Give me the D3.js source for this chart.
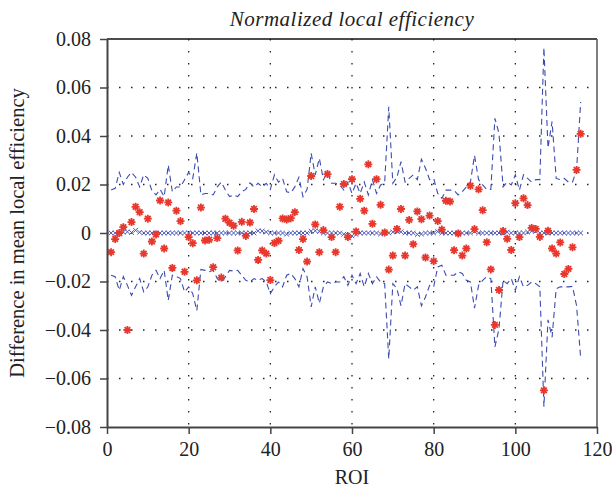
<!DOCTYPE html>
<html>
<head>
<meta charset="utf-8">
<script src="https://cdn.jsdelivr.net/npm/d3@7"></script>
<style>
  body { margin: 0; background: #fff; }
  text { font-family: "Liberation Serif", "DejaVu Serif", serif; fill: #222; }
</style>
</head>
<body>
<div id="chart"></div>
<script>
// ROI index 1..116
var roi = d3.range(1, 117);

// observed difference (red asterisks)
var diff = [
  -0.0079, -0.0025, 0.0000, 0.0024, -0.0400, 0.0045, 0.0108, 0.0086, -0.0085, 0.0059,
  -0.0035, -0.0006, 0.0134, -0.0064, 0.0126, -0.0144, 0.0092, 0.0049, -0.0160, -0.0017,
  -0.0042, -0.0195, 0.0105, -0.0031, -0.0028, -0.0141, -0.0021, -0.0184, 0.0059, 0.0042,
  0.0030, -0.0072, 0.0046, -0.0012, 0.0043, 0.0099, -0.0111, -0.0072, -0.0085, -0.0194,
  -0.0041, -0.0032, 0.0060, 0.0056, 0.0061, 0.0086, -0.0070, -0.0025, -0.0118, 0.0235,
  0.0035, -0.0079, 0.0012, 0.0243, -0.0017, -0.0079, 0.0108, 0.0202, -0.0017, 0.0222,
  0.0006, 0.0141, 0.0092, 0.0283, 0.0038, 0.0222, 0.0116, 0.0002, -0.0151, -0.0093,
  0.0017, 0.0099, -0.0093, 0.0054, -0.0046, 0.0089, 0.0057, -0.0101, 0.0072, -0.0116,
  0.0049, 0.0014, 0.0133, 0.0130, -0.0071, -0.0002, -0.0093, -0.0064, 0.0195, 0.0016,
  0.0180, 0.0094, -0.0038, -0.0150, -0.0379, -0.0235, 0.0008, -0.0024, -0.0070, 0.0123,
  -0.0017, 0.0143, 0.0115, 0.0021, 0.0017, -0.0016, -0.0649, 0.0009, -0.0064, -0.0085,
  -0.0039, -0.0169, -0.0148, -0.0059, 0.0260, 0.0409
];

// mean of null distribution (blue x)
var nullMean = [
  0.0000, 0.0000, -0.0003, 0.0004, 0.0005, 0.0002, 0.0011, 0.0003, 0.0000, 0.0000,
  0.0000, 0.0000, 0.0000, 0.0000, 0.0000, 0.0000, 0.0000, 0.0000, 0.0000, 0.0000,
  0.0000, 0.0000, 0.0000, 0.0000, 0.0000, 0.0000, 0.0000, 0.0000, 0.0000, 0.0000,
  0.0000, 0.0000, 0.0000, 0.0000, 0.0000, 0.0000, 0.0009, 0.0008, 0.0004, 0.0000,
  0.0000, 0.0000, 0.0000, -0.0005, 0.0000, 0.0000, 0.0000, 0.0000, 0.0000, 0.0008,
  0.0009, 0.0006, 0.0000, 0.0000, 0.0000, 0.0000, 0.0000, -0.0005, -0.0008, -0.0012,
  -0.0006, 0.0000, 0.0000, 0.0000, 0.0000, 0.0000, -0.0004, 0.0000, 0.0000, 0.0004,
  0.0009, 0.0005, 0.0000, 0.0000, 0.0000, -0.0006, -0.0004, 0.0000, 0.0000, 0.0000,
  0.0006, 0.0000, 0.0000, 0.0000, 0.0000, 0.0000, 0.0000, 0.0000, 0.0000, 0.0006,
  0.0000, 0.0000, 0.0000, 0.0000, 0.0000, 0.0000, 0.0000, 0.0004, 0.0000, 0.0000,
  0.0000, 0.0000, 0.0004, 0.0008, 0.0007, 0.0000, 0.0000, 0.0000, 0.0000, 0.0000,
  0.0000, 0.0000, 0.0000, 0.0000, 0.0000, 0.0000
];

// upper confidence bound (dashed)
var upper = [
  0.0177, 0.0184, 0.0250, 0.0200, 0.0230, 0.0250, 0.0230, 0.0190, 0.0240, 0.0225,
  0.0175, 0.0157, 0.0180, 0.0150, 0.0280, 0.0170, 0.0190, 0.0190, 0.0220, 0.0250,
  0.0225, 0.0330, 0.0157, 0.0163, 0.0163, 0.0157, 0.0190, 0.0210, 0.0177, 0.0150,
  0.0157, 0.0150, 0.0170, 0.0180, 0.0207, 0.0190, 0.0205, 0.0190, 0.0205, 0.0180,
  0.0240, 0.0210, 0.0225, 0.0170, 0.0166, 0.0190, 0.0230, 0.0150, 0.0180, 0.0329,
  0.0240, 0.0308, 0.0220, 0.0250, 0.0205, 0.0205, 0.0198, 0.0177, 0.0210, 0.0163,
  0.0205, 0.0163, 0.0210, 0.0157, 0.0220, 0.0163, 0.0198, 0.0207, 0.0520, 0.0205,
  0.0230, 0.0294, 0.0210, 0.0225, 0.0240, 0.0220, 0.0304, 0.0267, 0.0220, 0.0225,
  0.0163, 0.0143, 0.0177, 0.0177, 0.0175, 0.0157, 0.0170, 0.0190, 0.0210, 0.0320,
  0.0220, 0.0198, 0.0180, 0.0180, 0.0473, 0.0410, 0.0190, 0.0210, 0.0198, 0.0240,
  0.0177, 0.0240, 0.0225, 0.0210, 0.0220, 0.0220, 0.0765, 0.0350, 0.0460, 0.0225,
  0.0220, 0.0225, 0.0210, 0.0210, 0.0260, 0.0540
];

// lower confidence bound (dashed)
var lower = [
  -0.0174, -0.0180, -0.0236, -0.0180, -0.0216, -0.0257, -0.0222, -0.0188, -0.0243, -0.0222,
  -0.0174, -0.0154, -0.0188, -0.0154, -0.0278, -0.0174, -0.0180, -0.0188, -0.0243, -0.0222,
  -0.0250, -0.0320, -0.0150, -0.0154, -0.0160, -0.0154, -0.0188, -0.0202, -0.0180, -0.0154,
  -0.0157, -0.0154, -0.0174, -0.0195, -0.0202, -0.0188, -0.0195, -0.0188, -0.0202, -0.0250,
  -0.0222, -0.0202, -0.0222, -0.0174, -0.0167, -0.0188, -0.0222, -0.0147, -0.0180, -0.0305,
  -0.0222, -0.0290, -0.0222, -0.0202, -0.0209, -0.0202, -0.0202, -0.0180, -0.0216, -0.0174,
  -0.0209, -0.0167, -0.0222, -0.0167, -0.0209, -0.0180, -0.0202, -0.0209, -0.0519, -0.0209,
  -0.0229, -0.0300, -0.0209, -0.0222, -0.0236, -0.0222, -0.0300, -0.0264, -0.0216, -0.0222,
  -0.0140, -0.0133, -0.0174, -0.0174, -0.0174, -0.0160, -0.0167, -0.0195, -0.0202, -0.0310,
  -0.0216, -0.0195, -0.0180, -0.0188, -0.0470, -0.0395, -0.0195, -0.0209, -0.0188, -0.0236,
  -0.0180, -0.0222, -0.0216, -0.0202, -0.0209, -0.0222, -0.0716, -0.0358, -0.0430, -0.0230,
  -0.0222, -0.0222, -0.0222, -0.0220, -0.0300, -0.0516
];

var xTicks = [0, 20, 40, 60, 80, 100, 120];
var yTicks = [-0.08, -0.06, -0.04, -0.02, 0, 0.02, 0.04, 0.06, 0.08];

var margin = {top: 39, left: 107, right: 15, bottom: 62},
    width = 612 - margin.left - margin.right,
    height = 489 - margin.top - margin.bottom;

var svg = d3.select("#chart")
            .append("svg")
            .attr("width", 612)
            .attr("height", 489);

var g = svg.append("g")
           .attr("transform", "translate(" + margin.left + "," + margin.top + ")");

var x = d3.scaleLinear().domain([0, 120]).range([0, width]);
var y = d3.scaleLinear().domain([-0.08, 0.08]).range([height, 0]);

var fmtY = function(d) {
    if (d === 0) return "0";
    return (d < 0 ? "\u2212" : "") + Math.abs(d).toFixed(2);
};

// dotted grid
g.append("g")
 .selectAll("line.vgrid")
 .data(xTicks.slice(1, -1))
 .enter()
 .append("line")
     .attr("x1", function(d) { return x(d); })
     .attr("x2", function(d) { return x(d); })
     .attr("y1", 0)
     .attr("y2", height)
     .attr("stroke", "#222")
     .attr("stroke-width", 1.3)
     .attr("stroke-dasharray", "1.5,10.5");

g.append("g")
 .selectAll("line.hgrid")
 .data(yTicks.slice(1, -1))
 .enter()
 .append("line")
     .attr("x1", 0)
     .attr("x2", width)
     .attr("y1", function(d) { return y(d); })
     .attr("y2", function(d) { return y(d); })
     .attr("stroke", "#222")
     .attr("stroke-width", 1.3)
     .attr("stroke-dasharray", "1.5,10.5");

// dashed bounds
var line = function(vals) {
    return d3.line()
             .x(function(d, i) { return x(roi[i]); })
             .y(function(d) { return y(d); })(vals);
};

[upper, lower].forEach(function(vals) {
    g.append("path")
     .attr("d", line(vals))
     .attr("fill", "none")
     .attr("stroke", "#3c4cb0")
     .attr("stroke-width", 1.1)
     .attr("stroke-dasharray", "6,4");
});

// blue x markers
g.append("g")
 .selectAll("path")
 .data(nullMean)
 .enter()
 .append("path")
     .attr("transform", function(d, i) { return "translate(" + x(roi[i]) + "," + y(d) + ")"; })
     .attr("d", d3.symbol().type(d3.symbolX).size(16))
     .attr("fill", "none")
     .attr("stroke", "#4a58b8")
     .attr("stroke-width", 1);

// red asterisks: plus + cross, like matlab '*'
var star = {
    draw: function(ctx, size) {
        var r = Math.sqrt(size) / 2, k = r * Math.SQRT1_2;
        ctx.moveTo(-r, 0); ctx.lineTo(r, 0);
        ctx.moveTo(0, -r); ctx.lineTo(0, r);
        ctx.moveTo(-k, -k); ctx.lineTo(k, k);
        ctx.moveTo(-k, k); ctx.lineTo(k, -k);
    }
};

g.append("g")
 .selectAll("path")
 .data(diff)
 .enter()
 .append("path")
     .attr("transform", function(d, i) { return "translate(" + x(roi[i]) + "," + y(d) + ")"; })
     .attr("d", d3.symbol().type(star).size(64))
     .attr("fill", "none")
     .attr("stroke", "#e8372c")
     .attr("stroke-width", 1.8);

// frame: top and right
g.append("line").attr("x1", 0).attr("x2", width).attr("y1", 0).attr("y2", 0)
 .attr("stroke", "#111").attr("stroke-width", 1.5);
g.append("line").attr("x1", width).attr("x2", width).attr("y1", 0).attr("y2", height)
 .attr("stroke", "#555").attr("stroke-width", 1.5);

// axes
var xAxis = g.append("g")
             .attr("transform", "translate(0," + height + ")")
             .call(d3.axisBottom(x).tickValues(xTicks).tickSize(7).tickPadding(8).tickSizeOuter(0));
var yAxis = g.append("g")
             .call(d3.axisLeft(y).tickValues(yTicks).tickFormat(fmtY).tickSize(7).tickPadding(9).tickSizeOuter(0));

[xAxis, yAxis].forEach(function(a) {
    a.select(".domain").attr("stroke", "#444").attr("stroke-width", 2);
    a.selectAll(".tick line").attr("stroke", "#444").attr("stroke-width", 1.5);
    a.selectAll(".tick text")
     .attr("font-family", "Liberation Serif, serif")
     .attr("font-size", 20)
     .attr("fill", "#222");
});

// labels
svg.append("text")
   .attr("x", margin.left + width / 2)
   .attr("y", 26)
   .attr("text-anchor", "middle")
   .attr("font-style", "italic")
   .attr("font-size", 21)
   .attr("letter-spacing", 0.5)
   .text("Normalized local efficiency");

svg.append("text")
   .attr("x", margin.left + width / 2)
   .attr("y", 484)
   .attr("text-anchor", "middle")
   .attr("font-size", 20)
   .text("ROI");

svg.append("text")
   .attr("transform", "translate(24," + (margin.top + height / 2) + ") rotate(-90)")
   .attr("text-anchor", "middle")
   .attr("font-size", 20.5)
   .text("Difference in mean local efficiency");
</script>
</body>
</html>
